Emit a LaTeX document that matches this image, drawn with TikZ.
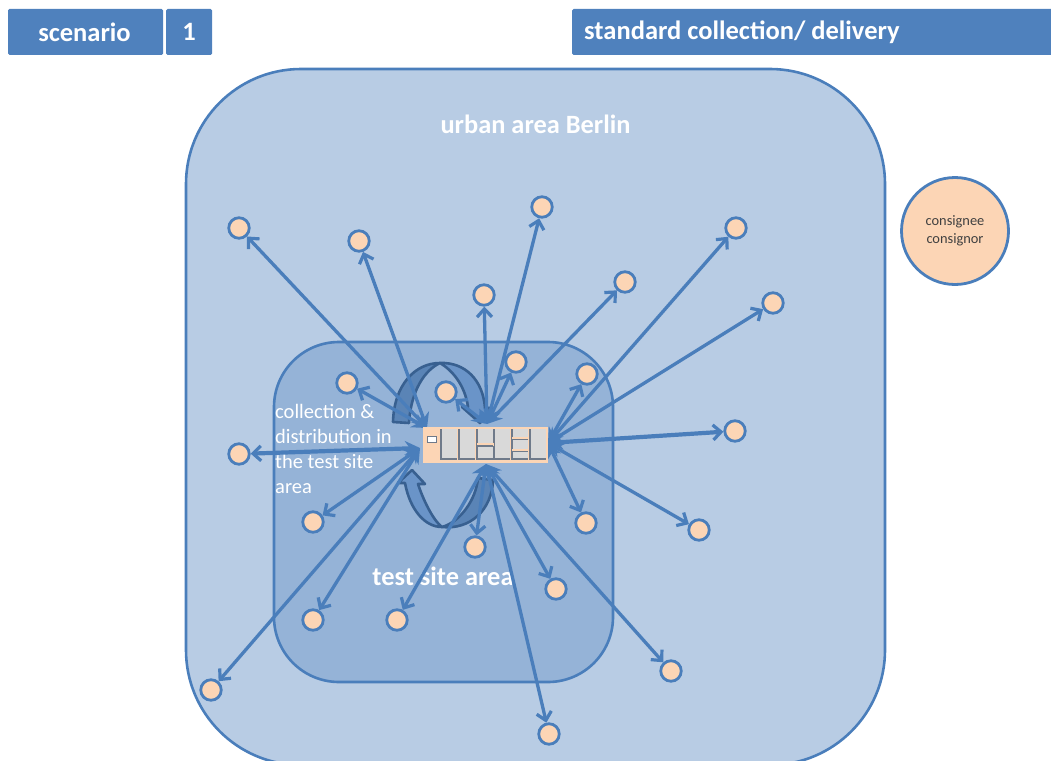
\documentclass[tikz,border=0pt]{standalone}
\usepackage{fontspec}
\setmainfont{Carlito}
\usetikzlibrary{arrows.meta}
\definecolor{hdr}{HTML}{4F81BD}
\definecolor{outerfill}{HTML}{B8CCE4}
\definecolor{innerfill}{HTML}{95B3D7}
\definecolor{peach}{HTML}{FCD5B5}
\definecolor{arr}{HTML}{4A7EBB}
\definecolor{bandd}{HTML}{386090}
\definecolor{bandl}{HTML}{6A94C8}
\definecolor{bandm}{HTML}{5A84B6}
\definecolor{cellg}{HTML}{D9D9D9}
\definecolor{celle}{HTML}{6F7A8A}
\tikzset{
 x=1pt,y=-1pt,
 hdrbox/.style={fill=hdr,draw=none,rounded corners=1.5pt},
 hdrtext/.style={text=white,font=\bfseries\fontsize{26.5}{30}\selectfont,inner sep=0pt},
 dot/.style={circle,draw=arr,line width=2.8pt,fill=peach,minimum size=20.5pt,inner sep=0pt},
 link/.style={draw=arr,line width=3.3pt,{Stealth[length=15pt,width=15pt]}-{Straight Barb[length=8pt,width=15pt,line width=3.2pt]}},
 thicklink/.style={link,line width=4.2pt},
 bigtxt/.style={text=white,font=\bfseries\fontsize{26.4}{30}\selectfont,inner sep=0pt},
 cell/.style={draw=celle,line width=1.2pt},
 band/.style={draw=bandd,line width=2.6pt,line join=round},
}
\begin{document}
\begin{tikzpicture}
\clip (0,0) rectangle (1051,760);
\useasboundingbox (0,0) rectangle (1051,760);
% headers
\path[hdrbox] (8,9) rectangle (163,55);
\path[hdrbox] (166,9) rectangle (212,55);
\path[hdrbox] (572,9) rectangle (1060,55);
\node[hdrtext] (tscen) at (84.5,32) {scenario};
\node[hdrtext] (tone) at (189,32) {1};
\node[hdrtext,anchor=west] (tstd) at (584,32) {standard collection/ delivery};
% areas
\draw[draw=arr,line width=2.6pt,fill=outerfill,rounded corners=115pt] (186,69) rectangle (885,765);
\draw[draw=arr,line width=2.6pt,fill=innerfill,rounded corners=65pt] (274,342) rectangle (613,682);
\node[bigtxt] (turban) at (535.5,124) {urban area Berlin};
\node[bigtxt] (ttest) at (443,576) {test site area};
\node[text=white,font=\fontsize{20.5}{25}\selectfont,align=left,anchor=north west,inner sep=0pt] (tcoll) at (275,404) {collection \&\\distribution in\\the test site\\area};
% upper curved arrow
\draw[band,fill=bandm] (393,422) .. controls (394,385) and (415,363) .. (440,363) .. controls (425,370) and (411,390) .. (409,423) -- cycle;
\draw[band,fill=bandl] (440,363) .. controls (465,362) and (483,380) .. (485,408) -- (492,408) -- (480,423) -- (462,407) -- (468,407) .. controls (465,385) and (452,370) .. (440,363) -- cycle;
% lower curved arrow
\draw[band,fill=bandl] (405,483) -- (398,483) -- (412,470) -- (425,484) -- (418,484) .. controls (425,505) and (435,522) .. (442,527) .. controls (425,527) and (410,510) .. (405,483) -- cycle;
\draw[band,fill=bandm] (442,527) .. controls (470,530) and (492,510) .. (493,480) -- (478,478) .. controls (476,500) and (460,522) .. (442,527) -- cycle;
% hub anchors
\coordinate (hw) at (420,448);
\coordinate (hnw) at (427,428);
\coordinate (hn) at (487,424);
\coordinate (he) at (548,443);
\coordinate (hs) at (486,464);
% end nodes
\foreach \n/\x/\y in {a1/239/228,a2/359/241,a3/484/295,a4/542/207,a5/625/282,a6/736/228,a7/773/303,a8/735/431,a9/699/530,a10/586/523,a11/671/671,a12/549/734,a13/556/589,a14/475/547,a15/397/620,a16/313/620,a17/211/690,a18/313/522,a19/239/454,a20/347/383,a21/446/392,a22/516/362,a23/587/374}
  \node[dot] (\n) at (\x,\y) {};
\foreach \n in {a1,a2,a20} \draw[link] (hnw) -- (\n);
\foreach \n in {a3,a4,a5,a21,a22} \draw[link] (hn) -- (\n);
\foreach \n in {a6,a7,a9,a10,a23} \draw[link] (he) -- (\n);
\draw[thicklink] (he) -- (a8);
\foreach \n in {a11,a12,a13,a14,a15} \draw[link] (hs) -- (\n);
\foreach \n in {a16,a17,a18} \draw[link] (hw) -- (\n);
\draw[thicklink] (hw) -- (a19);
% hub
\fill[peach] (423,427) rectangle (548,463);
\draw[fill=white,draw=celle,line width=1pt] (427,436) rectangle (436,442);
\foreach \a/\b in {441/457,459/475,477/493,494/510,512/528,530/546}{
  \fill[cellg] (\a,429) rectangle (\b,459);
  \draw[cell] (\a,429) -- (\a,459) -- (\b,459);
}
\fill[peach] (476.5,443) rectangle (493.5,445.5);
\draw[cell] (477,446) -- (493,446);
\fill[peach] (511.5,437) rectangle (528.5,439);
\draw[cell] (512,439.5) -- (528,439.5);
\fill[peach] (511.5,449) rectangle (528.5,451);
\draw[cell] (512,451.5) -- (528,451.5);
% consignee
\node[circle,draw=arr,line width=2.8pt,fill=peach,minimum size=107pt,inner sep=0pt,align=center,text=black!75,font=\fontsize{14.4}{18}\selectfont] (cons) at (955,231) {consignee\\consignor};
\end{tikzpicture}
\end{document}
